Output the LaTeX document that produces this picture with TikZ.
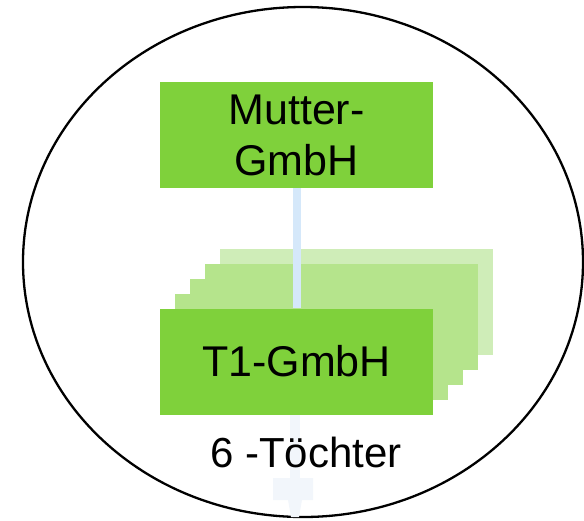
\documentclass[tikz,border=0pt]{standalone}
\usepackage{fontspec}
\setmainfont{Liberation Sans}
\definecolor{gmain}{RGB}{127,209,59}
\definecolor{gmid}{RGB}{181,228,140}
\definecolor{glight}{RGB}{207,237,184}
\definecolor{conn}{RGB}{213,232,250}
\definecolor{faint}{RGB}{242,246,251}
\begin{document}
\begin{tikzpicture}[x=1pt,y=-1pt,
  gbox/.style={fill=gmain,draw=none,minimum width=273pt,minimum height=106pt,inner sep=0pt,align=center,font=\fontsize{43}{51}\selectfont},
  layer/.style={draw=none,minimum width=273pt,minimum height=106pt,inner sep=0pt}]
\useasboundingbox (0,0) rectangle (584,520);
\draw[line width=2.3pt] (303,262) ellipse [x radius=280, y radius=255];
% faint downward arrow
\fill[faint] (290,414) rectangle (300,478);
\fill[faint] (273,478) -- (313,478) -- (313,500) -- (302,500) -- (299,517) -- (291,517) -- (288,500) -- (273,500) -- cycle;
% stacked layers
\node[layer,fill=glight] (l4) at (356.5,302) {};
\node[layer,fill=gmid] (l3) at (341.5,317) {};
\node[layer,fill=gmid] (l2) at (326.5,332) {};
\node[layer,fill=gmid] (l1) at (311.5,347) {};
\node[gbox] (m) at (296.5,135) {Mutter-\\GmbH};
\node[gbox] (t) at (296.5,361.5) {T1-GmbH};
\draw[conn,line width=8pt] (m.south) -- (t.north);
\node[font=\fontsize{42}{51}\selectfont,inner sep=0pt] (txt) at (306,452) {6 -Töchter};
\end{tikzpicture}
\end{document}
